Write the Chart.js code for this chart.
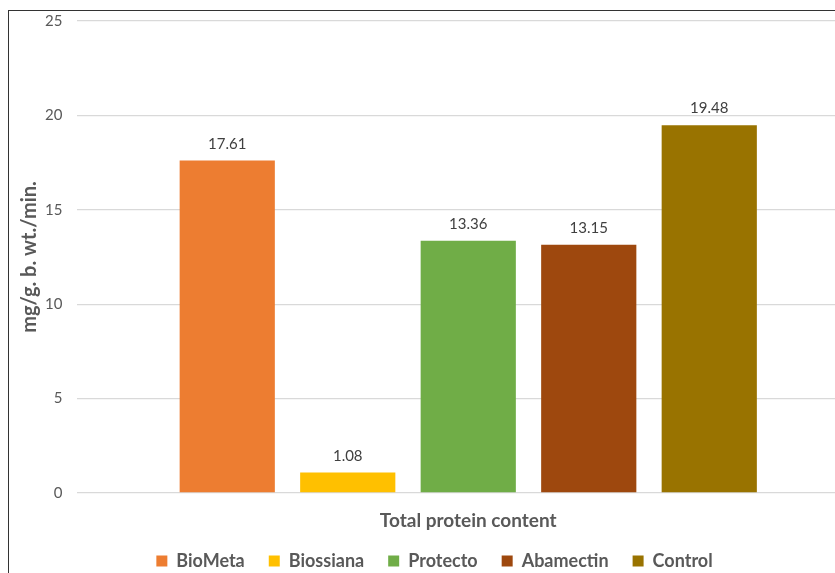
<!DOCTYPE html>
<html>
<head>
<meta charset="utf-8">
<script src="https://cdn.jsdelivr.net/npm/chart.js@4"></script>
<style>
  html, body { margin: 0; padding: 0; background: #fff; overflow: hidden; }
  #frame {
    position: absolute; left: 8px; top: 10px;
    width: 880px; height: 600px;
    border-left: 1.5px solid #333; border-top: 1.5px solid #333;
  }
  #wrap { position: absolute; left: 0; top: -13px; width: 870px; height: 589px; }
</style>
</head>
<body>
<div id="frame"><div id="wrap"><canvas id="myChart"></canvas></div></div>
<script>
const categories = ['Total protein content'];
const seriesNames = ['BioMeta', 'Biossiana', 'Protecto', 'Abamectin', 'Control'];
const seriesValues = [17.61, 1.08, 13.36, 13.15, 19.48];
const seriesColors = ['#ED7D31', '#FFC000', '#70AD47', '#9E480E', '#997300'];
const yTicks = [0, 5, 10, 15, 20, 25];

const fontFamily = 'Lato, "Open Sans", sans-serif';

// draw the value over each bar
const valueLabels = {
  id: 'valueLabels',
  afterDatasetsDraw(chart) {
    const ctx = chart.ctx;
    ctx.save();
    ctx.font = '15px ' + fontFamily;
    ctx.fillStyle = '#404040';
    ctx.textAlign = 'center';
    ctx.textBaseline = 'alphabetic';
    chart.data.datasets.forEach((ds, i) => {
      chart.getDatasetMeta(i).data.forEach((bar, j) => {
        ctx.fillText(ds.data[j].toFixed(2), bar.x, bar.y - 12);
      });
    });
    ctx.restore();
  }
};

// pull the legend a little closer to the axis label
const legendNudge = {
  id: 'legendNudge',
  afterLayout(chart) {
    chart.legend.top -= 7;
    chart.legend.bottom -= 7;
  }
};

new Chart('myChart', {
  type: 'bar',
  data: {
    labels: categories,
    datasets: seriesNames.map((name, i) => ({
      label: name,
      data: [seriesValues[i]],
      backgroundColor: seriesColors[i],
      borderWidth: 0,
      categoryPercentage: 0.769,
      barPercentage: 0.79
    }))
  },
  options: {
    responsive: true,
    maintainAspectRatio: false,
    animation: false,
    layout: { padding: { left: 0, right: 19, top: 2, bottom: 0 } },
    plugins: {
      legend: {
        display: true,
        position: 'bottom',
        labels: {
          boxWidth: 11,
          boxHeight: 11,
          padding: 24,
          color: '#595959',
          font: { family: fontFamily, size: 18, weight: 'bold' }
        }
      },
      tooltip: { enabled: false }
    },
    scales: {
      x: {
        grid: { display: false },
        border: { display: false },
        afterFit: axis => { axis.height = 42; },
        ticks: {
          color: '#595959',
          padding: 8,
          font: { family: fontFamily, size: 19, weight: 'bold' }
        }
      },
      y: {
        min: 0,
        max: 25,
        afterBuildTicks: axis => { axis.ticks = yTicks.map(v => ({ value: v })); },
        afterFit: axis => { axis.width = 67.5; },
        grid: { color: '#D9D9D9', lineWidth: 1.3, drawTicks: false },
        border: { display: false },
        ticks: {
          color: '#595959',
          padding: 14,
          font: { family: fontFamily, size: 15 }
        },
        title: {
          display: true,
          text: 'mg/g. b. wt./min.',
          color: '#595959',
          padding: { top: 9, bottom: 4 },
          font: { family: fontFamily, size: 20, weight: 'bold' }
        }
      }
    }
  },
  plugins: [valueLabels, legendNudge]
});
</script>
</body>
</html>
